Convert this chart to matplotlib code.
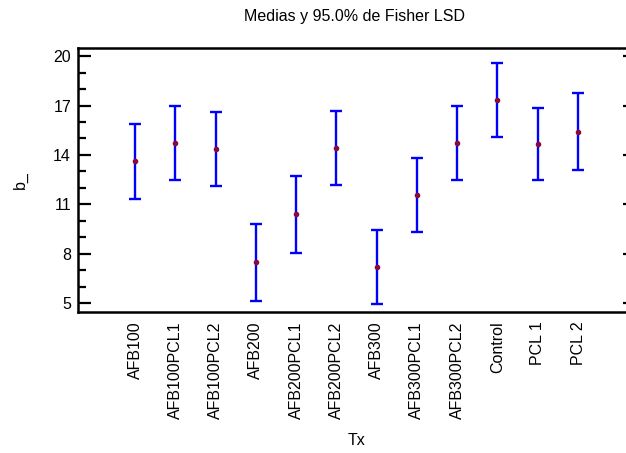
import numpy as np
import matplotlib
matplotlib.use("Agg")
import matplotlib.pyplot as plt
from matplotlib.ticker import MultipleLocator

# Treatment groups and their means for b_, with the Fisher LSD half-interval (95%)
treatments = ["AFB100", "AFB100PCL1", "AFB100PCL2", "AFB200", "AFB200PCL1",
              "AFB200PCL2", "AFB300", "AFB300PCL1", "AFB300PCL2", "Control",
              "PCL 1", "PCL 2"]
means = [13.60, 14.75, 14.35, 7.48, 10.38, 14.45, 7.18, 11.55, 14.75, 17.36,
         14.66, 15.42]
lsd_half = [2.25, 2.25, 2.25, 2.35, 2.35, 2.25, 2.25, 2.25, 2.25, 2.25,
            2.20, 2.35]
y_ticks = [5, 8, 11, 14, 17, 20]

FS = 11.5
plt.rcParams.update({
    "font.family": ["Liberation Sans", "DejaVu Sans"],
    "font.size": FS,
})

W, H = 626, 453
fig = plt.figure(figsize=(W / 100, H / 100), dpi=100)
# axes box in pixels: left 78, right 635 (runs past the edge), top 48, bottom 312
ax = fig.add_axes([78 / W, 1 - 312 / H, (635 - 78) / W, (312 - 48) / H])

x = np.arange(len(treatments))
ax.errorbar(x, means, yerr=lsd_half, fmt="none", ecolor="#0000FF",
            elinewidth=1.7, capsize=4, capthick=1.7, zorder=2)
ax.plot(x, means, "o", color="#8A0A3C", ms=3.0, zorder=3)

ax.set_xlim(-1.415, len(treatments) - 1 + 1.415)
ax.set_ylim(4.45, 20.5)
ax.set_yticks(y_ticks)
ax.yaxis.set_minor_locator(MultipleLocator(1))
ax.set_xticks(x)
ax.set_xticklabels(treatments, rotation=90, fontsize=FS)

ax.tick_params(axis="x", length=0, pad=7)
ax.tick_params(axis="y", which="major", direction="in", length=9, width=1.6,
               left=True, right=True, labelsize=FS, pad=5)
ax.tick_params(axis="y", which="minor", direction="in", length=6, width=1.6,
               left=True, right=True)
for sp in ax.spines.values():
    sp.set_linewidth(1.8)

ax.set_xlabel("Tx", fontsize=FS, labelpad=10)
ax.set_ylabel("b_", fontsize=FS, labelpad=18)
fig.text(355 / W, 1 - 16 / H, "Medias y 95.0% de Fisher LSD", ha="center",
         va="center", fontsize=FS)

fig.savefig("out.png", dpi=100)
